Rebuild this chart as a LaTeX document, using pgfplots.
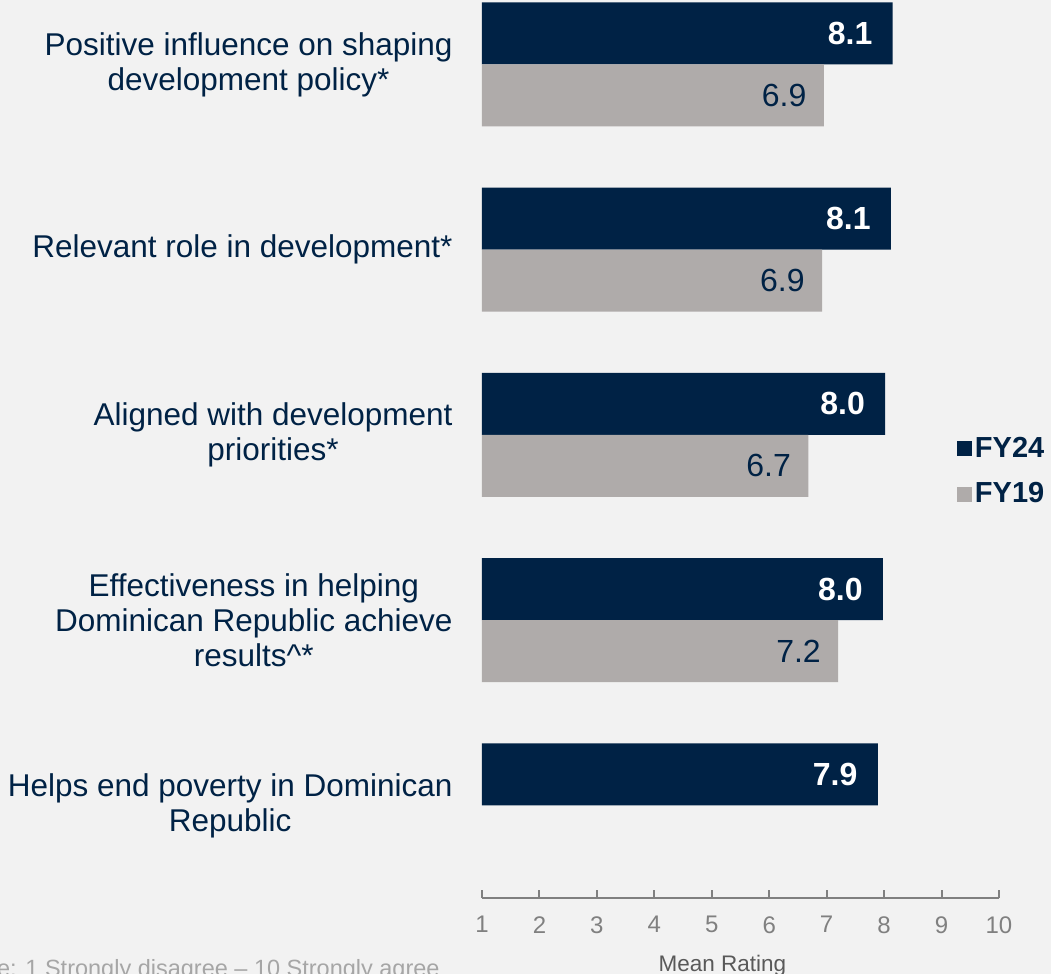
\documentclass[border=0pt]{standalone}
\usepackage{pgfplots}
\pgfplotsset{compat=1.18}
\usepackage{fontspec}
\setmainfont{Liberation Sans}
\definecolor{navy}{RGB}{0,34,69}
\definecolor{barGray}{RGB}{175,171,170}
\definecolor{bg}{RGB}{242,242,242}
\definecolor{tickGray}{RGB}{128,128,128}
\definecolor{labGray}{RGB}{89,89,89}
\definecolor{footGray}{RGB}{166,166,166}
\tikzset{catlab/.style={anchor=east, align=center, inner sep=0pt, xshift=-14.5pt, font=\fontsize{15.75}{17.5}\selectfont, text=navy}}
\begin{document}
\begin{tikzpicture}
\fill[bg] (-241pt,-38pt) rectangle (284.5pt,449pt);
\begin{axis}[
  at={(0,0)}, anchor=south west,
  scale only axis,
  width=258.5pt, height=448.75pt,
  xmin=1, xmax=10, ymin=-0.5, ymax=4.345,
  clip mode=individual,
  xbar, bar width=31pt,
  axis x line=bottom,
  axis y line=none,
  x axis line style={draw=tickGray, line width=1pt, -},
  xtick={1,...,10},
  xtick align=inside,
  major tick length=4pt,
  xtick style={draw=tickGray, line width=1pt},
  xticklabel style={font=\fontsize{12}{14}\selectfont, text=tickGray, inner sep=0pt, anchor=north, yshift=-9pt},
  /pgf/number format/assume math mode=true,
  xlabel={Mean Rating},
  xlabel style={at={(axis description cs:0.465,0)}, anchor=center, yshift=-34pt, font=\fontsize{11.25}{13}\selectfont, text=labGray},
  point meta=explicit symbolic,
  nodes near coords,
  legend style={draw=none, fill=none, at={(0.918,0.4752)}, anchor=west, inner sep=0pt, row sep=8pt,
    font=\fontsize{14.5}{16}\selectfont\bfseries, text=navy, nodes={inner sep=1.5pt}},
  legend cell align=left,
]
\addplot[fill=navy, draw=none, bar shift=15.5pt,
  every node near coord/.append style={anchor=east, xshift=-10pt, inner sep=0pt, text=white, font=\fontsize{16}{18}\selectfont\bfseries},
  legend image code/.code={\fill[navy] (0pt,-3.75pt) rectangle (7.5pt,3.75pt);}]
  coordinates {(8.15,4) [8.1] (8.12,3) [8.1] (8.02,2) [8.0] (7.98,1) [8.0] (7.89,0) [7.9]};
\addlegendentry{FY24}
\addplot[fill=barGray, draw=none, bar shift=-15.5pt,
  every node near coord/.append style={anchor=east, xshift=-8.5pt, inner sep=0pt, text=navy, font=\fontsize{16}{18}\selectfont},
  legend image code/.code={\fill[barGray] (0pt,-3.75pt) rectangle (7.5pt,3.75pt);}]
  coordinates {(6.95,4) [6.9] (6.92,3) [6.9] (6.68,2) [6.7] (7.2,1) [7.2]};
\addlegendentry{FY19}
\node[catlab] at (axis cs:1,4) {Positive influence on shaping\\development policy*};
\node[catlab] at (axis cs:1,3) {Relevant role in development*};
\node[catlab] at (axis cs:1,2) {Aligned with development\\priorities*};
\node[catlab] at (axis cs:1,1) {Effectiveness in helping\\Dominican Republic achieve\\results\textasciicircum*};
\node[catlab] at (axis cs:1,0) {Helps end poverty in Dominican\\Republic};
\end{axis}
\node[anchor=base east, inner sep=0pt, font=\fontsize{11.75}{13}\selectfont, text=footGray] at (-21pt,-39.5pt) {Scale: 1 Strongly disagree – 10 Strongly agree};
\pgfresetboundingbox
\useasboundingbox (-241pt,-38pt) rectangle (284.5pt,449pt);
\end{tikzpicture}
\end{document}
